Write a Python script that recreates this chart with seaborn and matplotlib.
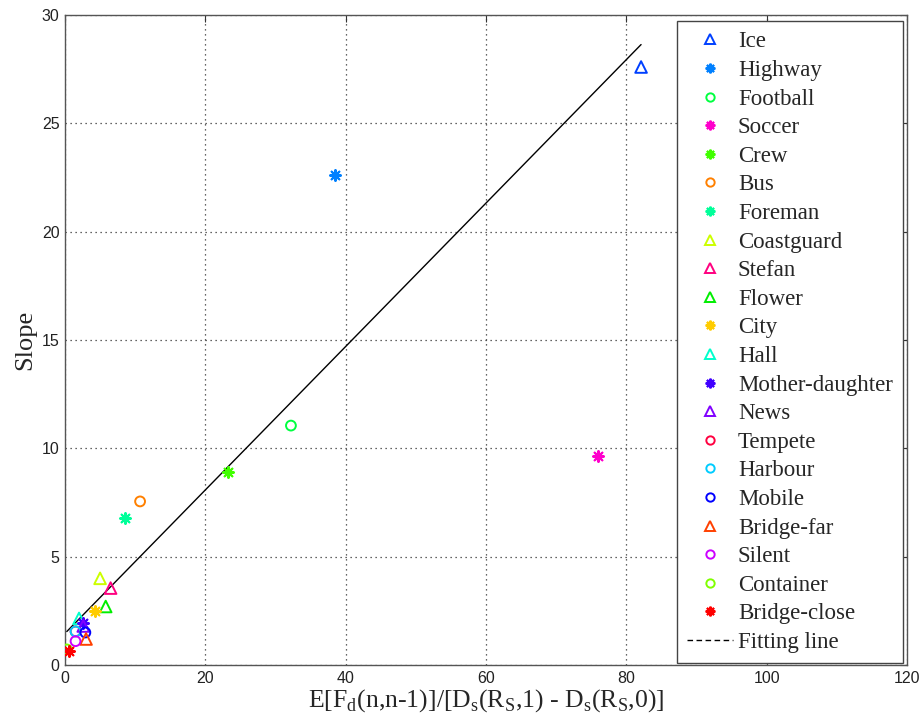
import numpy as np
import pandas as pd
import matplotlib
matplotlib.use("Agg")
import matplotlib.pyplot as plt
from matplotlib.lines import Line2D
import seaborn as sns

sequences = ["Ice", "Highway", "Football", "Soccer", "Crew", "Bus", "Foreman",
             "Coastguard", "Stefan", "Flower", "City", "Hall", "Mother-daughter",
             "News", "Tempete", "Harbour", "Mobile", "Bridge-far", "Silent",
             "Container", "Bridge-close"]
x_vals = [82.1, 38.5, 32.2, 76.0, 23.2, 10.7, 8.5,
          5.0, 6.5, 5.8, 4.3, 2.0, 2.5,
          2.6, 1.5, 1.5, 2.9, 3.0, 1.5,
          0.25, 0.55]
y_vals = [27.6, 22.6, 11.05, 9.65, 8.9, 7.55, 6.8,
          4.0, 3.55, 2.7, 2.5, 2.15, 1.95,
          1.8, 1.55, 1.55, 1.5, 1.2, 1.1,
          0.72, 0.65]
marker_kind = ["tri", "ast", "circ", "ast", "ast", "circ", "ast",
               "tri", "tri", "tri", "ast", "tri", "ast",
               "tri", "circ", "circ", "circ", "tri", "circ",
               "circ", "ast"]
colors = ["#0040ff", "#0080ff", "#00ff40", "#ff00cc", "#40ff00", "#ff8000", "#00ff99",
          "#ccff00", "#ff0080", "#00ee00", "#ffcc00", "#00ffcc", "#4000ff",
          "#8000ff", "#ff0040", "#00ccff", "#0000ff", "#ff4000", "#cc00ff",
          "#80ff00", "#ff0000"]

fit_slope = 0.331
fit_intercept = 1.46

x_ticks = [0, 20, 40, 60, 80, 100, 120]
y_ticks = [0, 5, 10, 15, 20, 25, 30]

sns.set_style("white")
serif = ["Liberation Serif", "DejaVu Serif"]
sans = ["Liberation Sans", "DejaVu Sans"]

fig = plt.figure(figsize=(9.24, 7.26), dpi=100)
ax = fig.add_axes([65 / 924, 1 - 665 / 726, (907 - 65) / 924, (665 - 15) / 726])

df = pd.DataFrame({"x": x_vals, "y": y_vals, "seq": sequences})

handles = []
for name, xv, yv, kind, c in zip(sequences, x_vals, y_vals, marker_kind, colors):
    sub = df[df.seq == name]
    if kind == "tri":
        sns.scatterplot(data=sub, x="x", y="y", ax=ax, marker="^", s=70,
                        fc="none", ec=c, linewidth=1.4, legend=False, zorder=3)
        handles.append(Line2D([], [], ls="none", marker="^", ms=6.5, mfc="none",
                              mec=c, mew=1.4, label=name))
    elif kind == "circ":
        sns.scatterplot(data=sub, x="x", y="y", ax=ax, marker="o", s=50,
                        fc="none", ec=c, linewidth=1.4, legend=False, zorder=3)
        handles.append(Line2D([], [], ls="none", marker="o", ms=6, mfc="none",
                              mec=c, mew=1.4, label=name))
    else:
        sns.scatterplot(data=sub, x="x", y="y", ax=ax, marker=(8, 2, 0), s=60,
                        color=c, ec=c, linewidth=1.5, legend=False, zorder=3)
        handles.append(Line2D([], [], ls="none", marker=(8, 2, 0), ms=7,
                              mec=c, mew=1.5, label=name))

fx = np.array([min(x_vals), max(x_vals)])
fy = fit_intercept + fit_slope * fx
sns.lineplot(x=fx, y=fy, ax=ax, color="black", lw=1.0, zorder=2, legend=False)
handles.append(Line2D([], [], color="black", lw=1.0, ls=(0, (4, 2.5)), label="Fitting line"))

ax.set_xlim(0, 120)
ax.set_ylim(0, 30)
ax.set_xticks(x_ticks)
ax.set_yticks(y_ticks)
ax.grid(True, ls=(0, (1, 3)), color="#333333", lw=0.9)
for sp in ax.spines.values():
    sp.set_color("#555555")
    sp.set_linewidth(1.0)
ax.tick_params(direction="in", length=5, width=0.8, color="#333333",
               top=True, right=True, labelsize=11.5, pad=4)
for lab in ax.get_xticklabels() + ax.get_yticklabels():
    lab.set_family(sans)
    lab.set_color("#222222")

ax.set_xlabel(r"E[F$_\mathregular{d}$(n,n-1)]/[D$_\mathregular{s}$(R$_\mathregular{S}$,1) - D$_\mathregular{s}$(R$_\mathregular{S}$,0)]",
              family=serif, fontsize=18.5, labelpad=1)
ax.set_ylabel("Slope", family=serif, fontsize=19, labelpad=4)

leg = ax.legend(handles=handles, loc="upper right",
                bbox_to_anchor=(903 / 924, 1 - 21 / 726), bbox_transform=fig.transFigure,
                prop={"family": serif, "size": 16.5}, labelspacing=0.33,
                handlelength=2.0, handletextpad=0.2, borderpad=0.45,
                fancybox=False, framealpha=1, edgecolor="#444444",
                borderaxespad=0)
leg.get_frame().set_linewidth(1.0)

fig.savefig("out.png", dpi=100)
